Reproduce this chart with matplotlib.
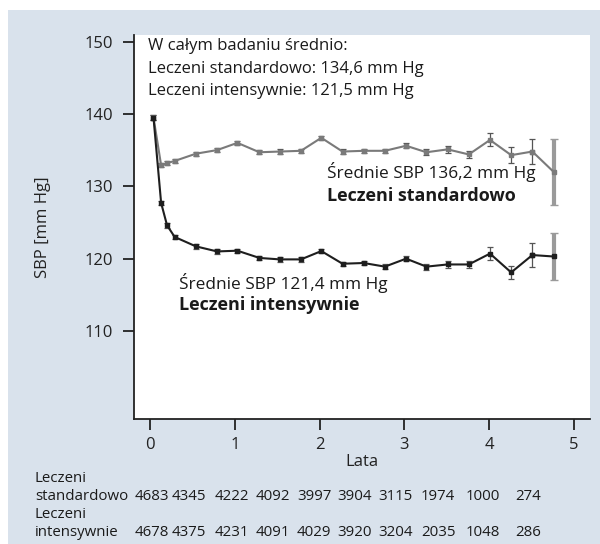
import matplotlib.pyplot as plt
from matplotlib.patches import Rectangle

plt.rcParams['font.family'] = ['Open Sans', 'DejaVu Sans']

# Visit times (years) and mean SBP per group
years = [0.04, 0.13, 0.2, 0.29, 0.54, 0.79, 1.03, 1.29, 1.53, 1.78, 2.02,
         2.27, 2.52, 2.77, 3.02, 3.26, 3.51, 3.76, 4.01, 4.26, 4.51, 4.76]
sbp_std = [139.5, 132.9, 133.2, 133.5, 134.5, 135.0, 136.0, 134.7, 134.8, 134.9,
           136.7, 134.8, 134.9, 134.9, 135.6, 134.7, 135.1, 134.4, 136.4, 134.3,
           134.8, 132.0]
err_std = [0.4, 0.3, 0.3, 0.3, 0.3, 0.3, 0.3, 0.3, 0.3, 0.3, 0.3, 0.3, 0.3,
           0.3, 0.35, 0.4, 0.45, 0.5, 0.9, 1.1, 1.7, 4.6]
sbp_int = [139.5, 127.7, 124.6, 123.0, 121.7, 121.0, 121.1, 120.1, 119.9, 119.9,
           121.05, 119.3, 119.4, 118.9, 120.0, 118.9, 119.2, 119.2, 120.7, 118.1,
           120.5, 120.3]
err_int = [0.4, 0.3, 0.3, 0.3, 0.3, 0.3, 0.3, 0.3, 0.3, 0.3, 0.3, 0.3, 0.3,
           0.3, 0.35, 0.4, 0.45, 0.5, 0.9, 0.95, 1.65, 3.2]

# Number at risk table
n_std = ["4683", "4345", "4222", "4092", "3997", "3904", "3115", "1974", "1000", "274"]
n_int = ["4678", "4375", "4231", "4091", "4029", "3920", "3204", "2035", "1048", "286"]
n_cols_px = [135, 172, 215, 256, 297, 337, 378, 421, 466, 515]

W, H = 600, 544
BG = '#d9e2ec'
fig = plt.figure(figsize=(W / 100, H / 100), dpi=100)
fig.patch.set_facecolor('white')
fig.patches.append(Rectangle((8 / W, 0), 1 - 8 / W, 1 - 10 / H,
                             transform=fig.transFigure, facecolor=BG,
                             edgecolor='none', zorder=-10))

ax = fig.add_axes([134 / W, 125 / H, 456 / W, 384 / H])
ax.set_facecolor('white')
for s in ['top', 'right']:
    ax.spines[s].set_visible(False)
for s in ['left', 'bottom']:
    ax.spines[s].set_linewidth(1.3)
    ax.spines[s].set_color('#222222')

def draw(y, e, col):
    ax.errorbar(years[:-1], y[:-1], yerr=e[:-1], color=col, lw=1.5,
                marker='s', ms=3, elinewidth=0.9, ecolor='#555555',
                capsize=2, capthick=0.9, zorder=3)
    ax.plot(years[-2:], y[-2:], color=col, lw=1.5, marker='s', ms=3, zorder=3)
    ax.errorbar(years[-1:], y[-1:], yerr=e[-1:], fmt='none', ecolor='#9a9a9a',
                elinewidth=3, capsize=3, capthick=1, zorder=2)

draw(sbp_std, err_std, '#7a7a7a')
draw(sbp_int, err_int, '#1e1e1e')

ax.set_xlim(-0.19, 5.19)
ax.set_ylim(97.85, 150.9)
ax.set_xticks([0, 1, 2, 3, 4, 5])
ax.set_yticks([110, 120, 130, 140, 150])
ax.tick_params(direction='out', length=8, width=1.3, color='#222222',
               labelsize=12, pad=7, labelcolor='#222222')
ax.tick_params(axis='x', pad=5)
ax.set_xlabel('Lata', fontsize=12, labelpad=1, color='#222222')
ax.set_ylabel('SBP [mm Hg]', fontsize=12, labelpad=24, color='#222222')

def ftext(x, y, s, **kw):
    fig.text(x / W, 1 - y / H, s, va='center', ha='left',
             color='#1a1a1a', **kw)

ftext(148, 46, 'W całym badaniu średnio:', fontsize=12)
ftext(148, 69, 'Leczeni standardowo: 134,6 mm Hg', fontsize=12)
ftext(148, 91, 'Leczeni intensywnie: 121,5 mm Hg', fontsize=12)

ftext(327, 172, 'Średnie SBP 136,2 mm Hg', fontsize=12.4)
ftext(327, 196, 'Leczeni standardowo', fontsize=13, fontweight='bold')
ftext(179, 283, 'Średnie SBP 121,4 mm Hg', fontsize=12.4)
ftext(179, 305, 'Leczeni intensywnie', fontsize=13, fontweight='bold')

ftext(35, 478, 'Leczeni', fontsize=10.8)
ftext(35, 497, 'standardowo', fontsize=10.8)
ftext(35, 515, 'Leczeni', fontsize=10.8)
ftext(35, 533, 'intensywnie', fontsize=10.8)
for xp, a, b in zip(n_cols_px, n_std, n_int):
    ftext(xp, 497, a, fontsize=10.8)
    ftext(xp, 533, b, fontsize=10.8)

fig.savefig('out.png', dpi=100, facecolor=fig.get_facecolor())
